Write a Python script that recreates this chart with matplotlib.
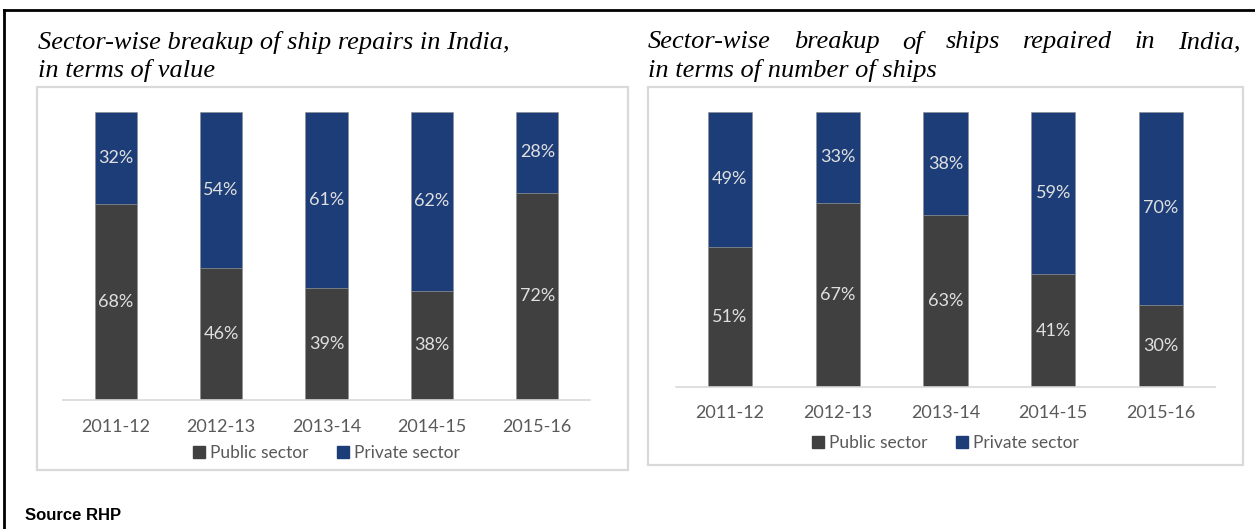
import matplotlib
matplotlib.use("Agg")
import matplotlib.pyplot as plt
from matplotlib.lines import Line2D
from matplotlib.patches import Rectangle, Patch

years = ["2011-12", "2012-13", "2013-14", "2014-15", "2015-16"]
value_public = [68, 46, 39, 38, 72]
value_private = [32, 54, 61, 62, 28]
ships_public = [51, 67, 63, 41, 30]
ships_private = [49, 33, 38, 59, 70]

PUBLIC = "#404040"
PRIVATE = "#1c3d78"
W, H = 1255, 529

fig = plt.figure(figsize=(W / 100, H / 100), dpi=100)
fig.patch.set_facecolor("white")


def px(x0, y0, x1, y1):
    # pixel box (top-left origin) -> figure fraction rect
    return [x0 / W, 1 - y1 / H, (x1 - x0) / W, (y1 - y0) / H]


def draw_panel(box, plot, public, private, width, tick_pad, legend_y):
    # light grey frame of the panel
    fig.add_artist(Rectangle((box[0] / W, 1 - box[3] / H), (box[2] - box[0]) / W,
                             (box[3] - box[1]) / H, transform=fig.transFigure,
                             fill=False, edgecolor="#d9d9d9", lw=1.6))
    ax = fig.add_axes(px(*plot))
    x = range(len(years))
    tot = [a + b for a, b in zip(public, private)]
    pub = [100 * a / t for a, t in zip(public, tot)]
    pri = [100 * b / t for b, t in zip(private, tot)]
    ax.bar(x, pub, width, color=PUBLIC, edgecolor="#8c8c8c", lw=0.4, label="Public sector")
    ax.bar(x, pri, width, bottom=pub, color=PRIVATE, edgecolor="#8c8c8c", lw=0.4,
           label="Private sector")
    for i in x:
        ax.text(i, pub[i] / 2, f"{public[i]}%", ha="center", va="center",
                color="#e0e0e0", fontsize=13, family="Lato")
        ax.text(i, pub[i] + pri[i] / 2, f"{private[i]}%", ha="center", va="center",
                color="#e0e0e0", fontsize=13, family="Lato")
    ax.set_xlim(-0.5, len(years) - 0.5)
    ax.set_ylim(0, 100)
    for s in ["left", "right", "top"]:
        ax.spines[s].set_visible(False)
    ax.spines["bottom"].set_color("#d9d9d9")
    ax.spines["bottom"].set_linewidth(1.2)
    ax.set_yticks([])
    ax.set_xticks(list(x))
    ax.set_xticklabels(years, fontsize=13, color="#595959", family="Lato")
    ax.tick_params(axis="x", length=0, pad=tick_pad)
    ax.legend(handles=[Patch(color=PUBLIC, label="Public sector"),
                       Patch(color=PRIVATE, label="Private sector")],
              loc="center", bbox_to_anchor=(0.5, legend_y), ncol=2, frameon=False,
              prop={"family": "Lato", "size": 12.5}, labelcolor="#595959",
              handlelength=0.7, handleheight=0.7, handletextpad=0.3, columnspacing=1.6)
    return ax


ax1 = draw_panel((37, 87, 628, 470), (63, 112, 590, 400), value_public, value_private,
                 0.4, 14, -0.185)
ax2 = draw_panel((648, 87, 1243, 465), (676, 112, 1215, 387), ships_public, ships_private,
                 0.41, 13, -0.205)

# titles
tfont = dict(family="Liberation Serif", style="italic", fontsize=19, color="black")
fig.text(38 / W, 1 - 42 / H, "Sector-wise breakup of ship repairs in India,", va="center", **tfont)
fig.text(38 / W, 1 - 71 / H, "in terms of value", va="center", **tfont)
fig.text(648 / W, 1 - 71 / H, "in terms of number of ships", va="center", **tfont)

# justified first line of the right title
words = "Sector-wise breakup of ships repaired in India,".split()
r = fig.canvas.get_renderer()
arts = [fig.text(0, 1 - 42 / H, w, va="center", **tfont) for w in words]
widths = [a.get_window_extent(r).width for a in arts]
x0, x1 = 648, 1241
gap = (x1 - x0 - sum(widths)) / (len(words) - 1)
cx = x0
for a, w in zip(arts, widths):
    a.set_x(cx / W)
    cx += w + gap

# outer frame (top and left only)
fig.add_artist(Line2D([4 / W, 1], [1 - 10 / H, 1 - 10 / H], color="black", lw=2,
                      transform=fig.transFigure))
fig.add_artist(Line2D([4 / W, 4 / W], [0, 1 - 10 / H], color="black", lw=2,
                      transform=fig.transFigure))

fig.text(25 / W, 1 - 516 / H, "Source RHP", va="center", ha="left",
         family="Liberation Sans", weight="bold", fontsize=12)

fig.savefig("out.png", dpi=100)
